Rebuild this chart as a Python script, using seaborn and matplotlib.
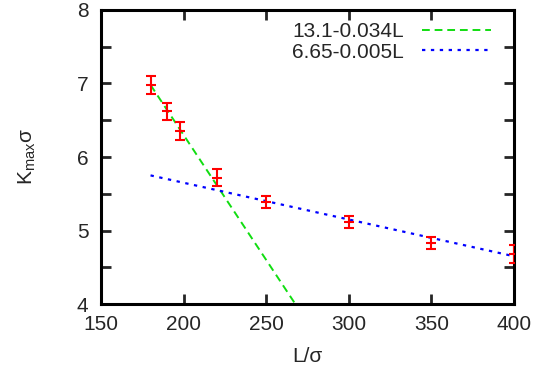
import numpy as np
import pandas as pd
import matplotlib
matplotlib.use('Agg')
import matplotlib.pyplot as plt
import seaborn as sns

# data
L = [180, 190, 198, 220, 250, 300, 350, 400]
K = [6.98, 6.62, 6.35, 5.72, 5.39, 5.12, 4.83, 4.68]
K_err = [0.12, 0.12, 0.12, 0.12, 0.08, 0.08, 0.08, 0.12]

fit1_label = '13.1-0.034L'
fit1_a, fit1_b = 13.1, 0.034
fit1_L = [180, 267.6]
fit2_label = '6.65-0.005L'
fit2_a, fit2_b = 6.65, 0.005
fit2_L = [180, 400]

sns.set_style('ticks')
plt.rcParams['font.family'] = ['Liberation Sans', 'DejaVu Sans']
plt.rcParams['mathtext.fontset'] = 'custom'
plt.rcParams['mathtext.rm'] = 'Liberation Sans'
plt.rcParams['mathtext.it'] = 'Liberation Sans'

fig = plt.figure(figsize=(5.36, 3.69), dpi=100)
ax = fig.add_axes([0.1884, 0.176, 0.7706, 0.797])

df1 = pd.DataFrame({'L': fit1_L, 'K': [fit1_a - fit1_b * l for l in fit1_L]})
df2 = pd.DataFrame({'L': fit2_L, 'K': [fit2_a - fit2_b * l for l in fit2_L]})

sns.lineplot(data=df1, x='L', y='K', ax=ax, color='#11dd11', lw=1.4,
             label=fit1_label, linestyle=(0, (4, 2.5)))
sns.lineplot(data=df2, x='L', y='K', ax=ax, color='#0000ff', lw=1.6,
             label=fit2_label, linestyle=(0, (1.5, 2.5)))

ax.errorbar(L, K, yerr=K_err, fmt='_', color='#ff0000', ms=7.5, mew=1.5,
            elinewidth=1.5, capsize=3.7, capthick=1.5, zorder=3)

ax.set_xlim(150, 400)
ax.set_ylim(4, 8)
ax.set_xticks([150, 200, 250, 300, 350, 400])
ax.set_yticks([4, 5, 6, 7, 8])
ax.set_yticks([4.5, 5.5, 6.5, 7.5], minor=True)

for s in ax.spines.values():
    s.set_linewidth(2.2)
    s.set_color('black')
ax.tick_params(which='both', direction='in', top=True, right=True,
               length=7, width=2, labelsize=15)
ax.tick_params(axis='x', pad=8)
ax.tick_params(axis='y', pad=9)

ax.set_xlabel('L/σ', fontsize=15, labelpad=9)
ax.set_ylabel(r'K$_{\mathrm{max}}$σ', fontsize=15, labelpad=28)

leg = ax.legend(loc='upper right', bbox_to_anchor=(0.975, 1.0),
                frameon=False, markerfirst=False,
                fontsize=15, handlelength=3.3, handletextpad=0.9,
                labelspacing=0.05, borderaxespad=0.2)

plt.savefig('out.png', dpi=100)
